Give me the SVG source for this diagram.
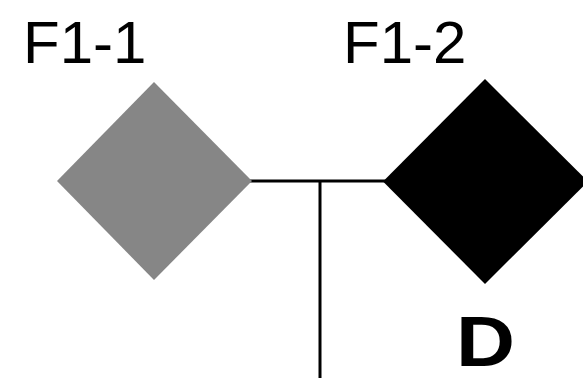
<svg xmlns="http://www.w3.org/2000/svg" width="583" height="378" viewBox="0 0 583 378">
<style>
.lbl{font-family:"Liberation Sans",Arial,sans-serif;font-size:60px;fill:#000}
.bold{font-family:"Liberation Sans",Arial,sans-serif;font-size:70px;font-weight:bold;fill:#000}
.conn{stroke:#000;stroke-width:3;fill:none}
</style>
<rect width="583" height="378" fill="#fff"/>
<g id="connectors">
<line class="conn" x1="250" y1="181" x2="386" y2="181"/>
<line class="conn" x1="320" y1="181" x2="320" y2="378"/>
</g>
<g id="node-f1-1">
<polygon points="154,82 252,181 154,280 57,181" fill="#868686"/>
<text class="lbl" x="23" y="63">F1-1</text>
</g>
<g id="node-f1-2">
<polygon points="485,79 588,181.5 485,284 383,181.5" fill="#000"/>
<text class="lbl" x="343" y="63">F1-2</text>
</g>
<g id="label-d">
<text class="bold" x="456" y="366" textLength="59" lengthAdjust="spacingAndGlyphs">D</text>
</g>
</svg>
